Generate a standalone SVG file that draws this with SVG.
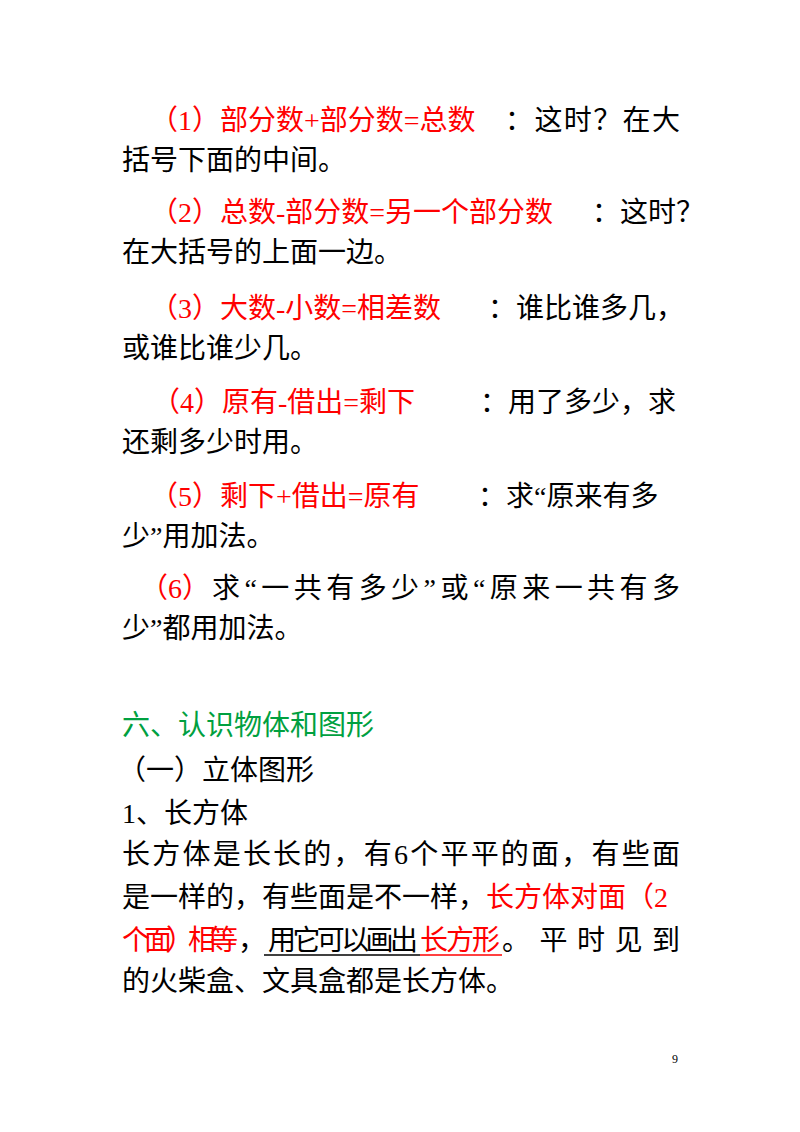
<svg xmlns="http://www.w3.org/2000/svg" width="800" height="1132" viewBox="0 0 800 1132">
<style>
text{font-family:"Liberation Serif","Noto Sans CJK SC",serif;font-size:28px;fill:#000}
.r{fill:#ff0000}
.g{fill:#00a040}
</style>
<rect width="800" height="1132" fill="#fff"/>
<text x="150" y="130" class="r">（1）部分数+部分数=总数</text>
<text x="505" y="130" textLength="175">：这时？在大</text>
<text x="122" y="170">括号下面的中间。</text>
<text x="150" y="222" class="r">（2）总数-部分数=另一个部分数</text>
<text x="592" y="222">：这时？</text>
<text x="122" y="262">在大括号的上面一边。</text>
<text x="150" y="318" class="r">（3）大数-小数=相差数</text>
<text x="488" y="318">：谁比谁多几，</text>
<text x="122" y="358">或谁比谁少几。</text>
<text x="152" y="412" class="r">（4）原有-借出=剩下</text>
<text x="480" y="412">：用了多少，求</text>
<text x="122" y="452">还剩多少时用。</text>
<text x="150" y="506" class="r">（5）剩下+借出=原有</text>
<text x="478" y="506">：求“原来有多</text>
<text x="122" y="546">少”用加法。</text>
<text x="140" y="598" class="r">（6）</text>
<text x="212" y="598" textLength="468">求“一共有多少”或“原来一共有多</text>
<text x="122" y="638">少”都用加法。</text>
<text x="122" y="735" class="g">六、认识物体和图形</text>
<text x="118" y="780">（一）立体图形</text>
<text x="122" y="823">1、长方体</text>
<text x="122" y="864" textLength="558">长方体是长长的，有6个平平的面，有些面</text>
<text x="122" y="907">是一样的，有些面是不一样，<tspan class="r">长方体对面（2</tspan></text>
<text x="122" y="950" class="r" textLength="116">个面）相等</text>
<text x="238" y="950">，</text>
<text x="268" y="950" textLength="150">用它可以画出</text>
<text x="420" y="950" class="r" textLength="80">长方形</text>
<text x="502" y="950" textLength="178">。平时见到</text>
<line x1="264" y1="955" x2="420" y2="955" stroke="#000" stroke-width="1.5"/>
<line x1="420" y1="955" x2="502" y2="955" stroke="#ff0000" stroke-width="1.5"/>
<text x="122" y="991">的火柴盒、文具盒都是长方体。</text>
<text x="672" y="1063" style="font-size:12px">9</text>
</svg>
